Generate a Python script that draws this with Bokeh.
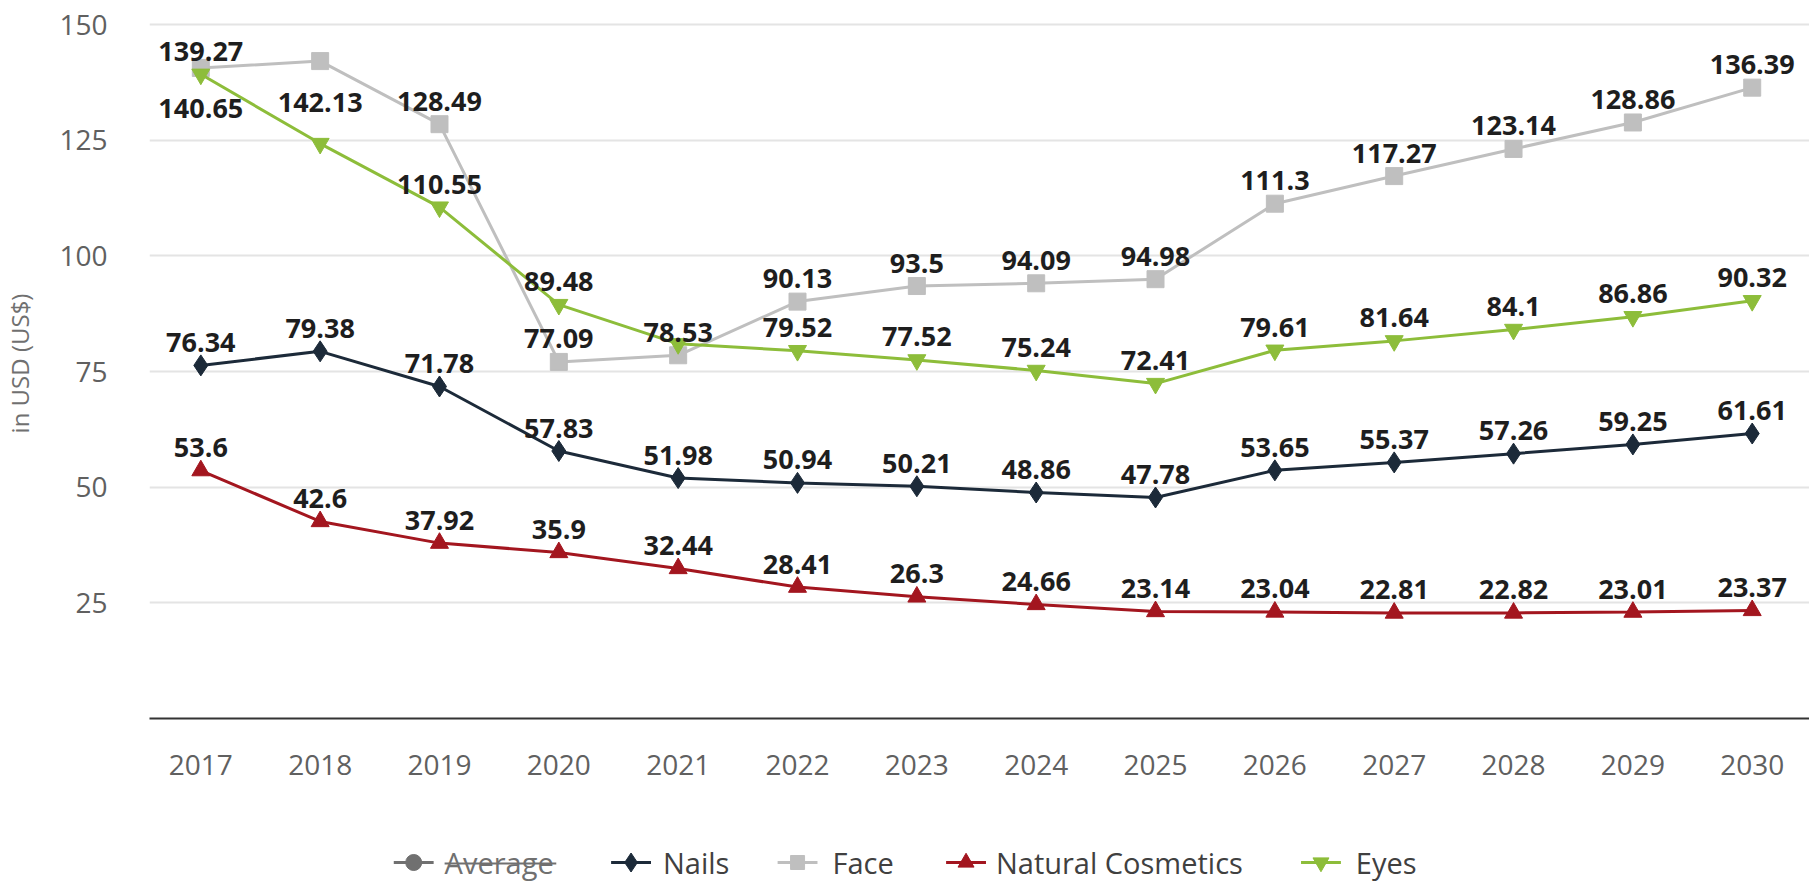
from bokeh.plotting import figure
from bokeh.models import Range1d, FixedTicker, ColumnDataSource
from bokeh.layouts import column
from bokeh.embed import file_html
from bokeh.resources import INLINE
from bokeh.core.properties import value

# ---------------- data ----------------
years = [2017, 2018, 2019, 2020, 2021, 2022, 2023, 2024, 2025, 2026, 2027, 2028, 2029, 2030]
nails = [76.34, 79.38, 71.78, 57.83, 51.98, 50.94, 50.21, 48.86, 47.78, 53.65, 55.37, 57.26, 59.25, 61.61]
face = [140.65, 142.13, 128.49, 77.09, 78.53, 90.13, 93.5, 94.09, 94.98, 111.3, 117.27, 123.14, 128.86, 136.39]
natural = [53.6, 42.6, 37.92, 35.9, 32.44, 28.41, 26.3, 24.66, 23.14, 23.04, 22.81, 22.82, 23.01, 23.37]
eyes = [139.27, 124.3, 110.55, 89.48, 81.0, 79.52, 77.52, 75.24, 72.41, 79.61, 81.64, 84.1, 86.86, 90.32]
y_ticks = [25, 50, 75, 100, 125, 150]
legend_labels = ["Average", "Nails", "Face", "Natural Cosmetics", "Eyes"]
y_title = "in USD (US$)"

# label placement tweaks (which labels sit below the point / are hidden)
face_label_below = [2017, 2018]
eyes_label_hidden = [2018, 2021]

# ---------------- styles ----------------
FONT = "Open Sans"
C_NAILS = "#1c2a39"
C_FACE = "#bfbfbf"
C_NAT = "#a3161f"
C_EYES = "#8dbd3a"
C_AVG = "#707070"

p = figure(width=1809, height=815,
           x_range=Range1d(2016.57, 2030.48), y_range=Range1d(0, 153.5),
           output_backend="svg", toolbar_location=None,
           min_border_left=144, min_border_right=0, min_border_top=8, min_border_bottom=97)
p.outline_line_color = None
p.background_fill_color = "white"
p.border_fill_color = "white"

# axes
p.xaxis.ticker = FixedTicker(ticks=years)
p.xaxis.axis_line_color = "#333333"
p.xaxis.axis_line_width = 2
p.xaxis.major_tick_line_color = None
p.xaxis.minor_tick_line_color = None
p.xaxis.major_label_standoff = 30
p.xaxis.major_label_text_font = FONT
p.xaxis.major_label_text_font_size = "28px"
p.xaxis.major_label_text_color = "#606060"

p.yaxis.ticker = FixedTicker(ticks=y_ticks)
p.yaxis.axis_line_color = None
p.yaxis.major_tick_line_color = None
p.yaxis.minor_tick_line_color = None
p.yaxis.major_label_standoff = 36
p.yaxis.major_label_text_font = FONT
p.yaxis.major_label_text_font_size = "28px"
p.yaxis.major_label_text_color = "#606060"
p.yaxis.axis_label = y_title
p.yaxis.axis_label_text_font = FONT
p.yaxis.axis_label_text_font_size = "24px"
p.yaxis.axis_label_text_font_style = "normal"
p.yaxis.axis_label_text_color = "#707070"
p.yaxis.axis_label_standoff = 20

p.xgrid.visible = False
p.ygrid.ticker = FixedTicker(ticks=y_ticks)
p.ygrid.grid_line_color = "#e4e4e4"
p.ygrid.grid_line_width = 2

def fmt(v):
    return f"{v:g}"

series = [
    ("Nails", nails, C_NAILS, "diamond", 21, [], []),
    ("Face", face, C_FACE, "square", 17, face_label_below, []),
    ("Natural Cosmetics", natural, C_NAT, "triangle", 18, [], []),
    ("Eyes", eyes, C_EYES, "inverted_triangle", 18, [], eyes_label_hidden),
]

for name, vals, col, mk, sz, below, hidden in series:
    p.line(years, vals, line_color=col, line_width=3)
    p.scatter(years, vals, marker=mk, size=sz, fill_color=col, line_color=col)

for name, vals, col, mk, sz, below, hidden in series:
    xs, ys, txt, offs = [], [], [], []
    for yr, v in zip(years, vals):
        if yr in hidden:
            continue
        xs.append(yr)
        ys.append(v)
        txt.append(fmt(v))
        offs.append(41 if yr in below else -23)
    src = ColumnDataSource(dict(x=xs, y=ys, t=txt, off=offs))
    p.text(x="x", y="y", text="t", y_offset="off", source=src,
           text_font=value(FONT), text_font_size="27px", text_font_style="bold",
           text_color="#1e1e1e", text_align="center", text_baseline="alphabetic")

# ---------------- legend row ----------------
# x coordinates of this row are page pixels (frame aligned with the chart frame)
lg = figure(width=1809, height=70, x_range=Range1d(152, 1817), y_range=Range1d(70, 0),
            output_backend="svg", toolbar_location=None,
            x_axis_location=None, y_axis_location=None,
            min_border_left=144, min_border_right=0, min_border_top=0, min_border_bottom=0)
lg.outline_line_color = None
lg.grid.visible = False
lg.background_fill_color = "white"
lg.border_fill_color = "white"

leg_symbol_x = [417, 635, 802, 971, 1327]
leg_text_x = [448, 667, 837, 1001, 1362]
leg_colors = [C_AVG, C_NAILS, C_FACE, C_NAT, C_EYES]
leg_markers = ["circle", "diamond", "square", "triangle", "inverted_triangle"]
leg_sizes = [16, 19, 14, 16, 16]
ly = 47
for lbl, sx, tx, c, m, s in zip(legend_labels, leg_symbol_x, leg_text_x, leg_colors, leg_markers, leg_sizes):
    lg.line([sx - 20, sx + 20], [ly, ly], line_color=c, line_width=3)
    lg.scatter([sx], [ly], marker=m, size=s, fill_color=c, line_color=c)
    lg.text(x=[tx], y=[ly], text=[lbl], text_font=value(FONT), text_font_size="29px",
            text_color=(C_AVG if lbl == "Average" else "#404040"),
            text_align="left", text_baseline="middle")
# strike-through for hidden "Average" series
lg.line([leg_text_x[0], leg_text_x[0] + 112], [ly + 1, ly + 1], line_color=C_AVG, line_width=2)

layout = column(p, lg, spacing=0)
open("out.html", "w").write(file_html(layout, INLINE))
